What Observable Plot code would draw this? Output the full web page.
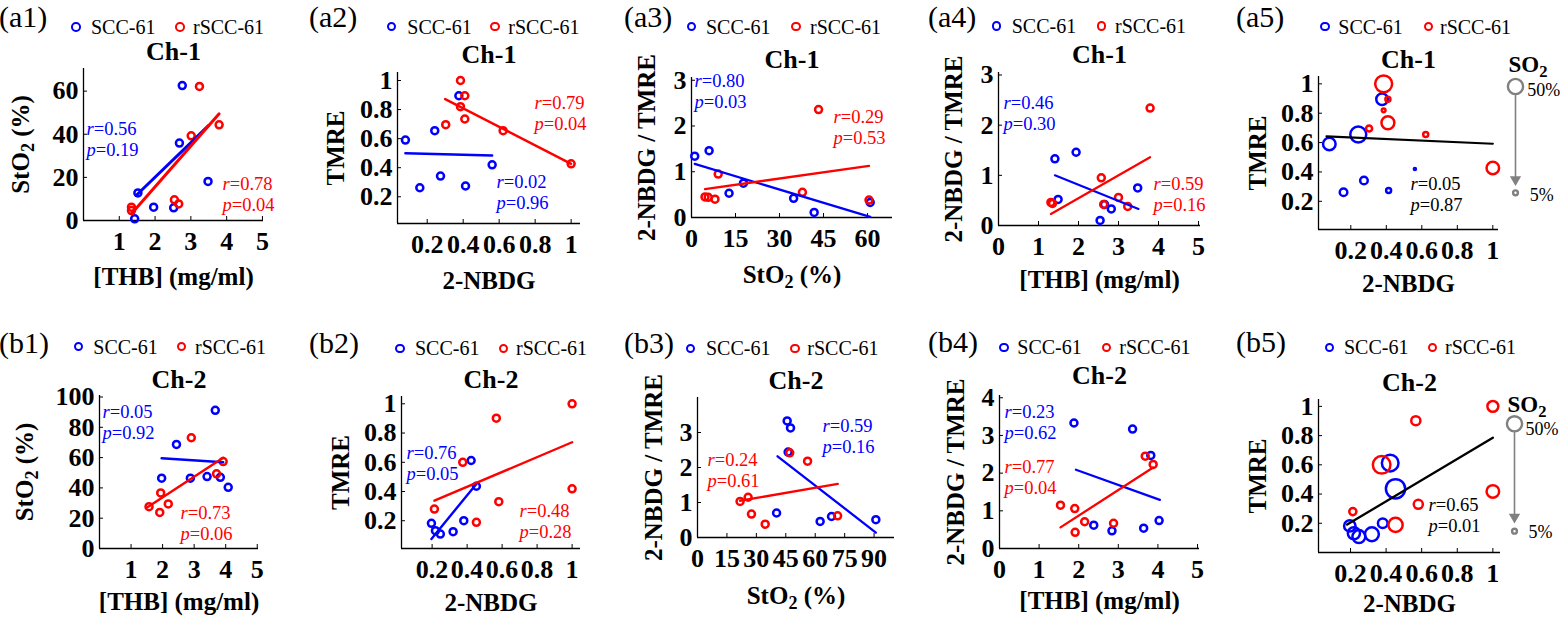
<!DOCTYPE html>
<html>
<head>
<meta charset="utf-8">
<script src="https://cdn.jsdelivr.net/npm/d3@7"></script>
<script src="https://cdn.jsdelivr.net/npm/@observablehq/plot@0.6"></script>
<style>
html,body{margin:0;padding:0;background:#fff;}
#fig{position:relative;width:1563px;height:617px;overflow:hidden;background:#fff;font-family:"Liberation Serif","Times New Roman",Times,serif;}
#fig svg, #fig svg text, #fig svg tspan{font-family:"Liberation Serif","Times New Roman",Times,serif !important;}
.abs{position:absolute;white-space:nowrap;line-height:1;}
.plab{font-size:30px;}
.legt{font-size:20px;}
.mk{position:absolute;box-sizing:border-box;width:9.6px;height:9.6px;border-radius:50%;border:2.5px solid;}
</style>
</head>
<body>
<div id="fig"></div>
<script>
const BLUE = "#0000ff", RED = "#ff0000", GRAY = "#808080", BLACK = "#000000";
const FONT = "'Liberation Serif', 'Times New Roman', Times, serif";

// ---------- series names ----------
const groups = ["SCC-61", "rSCC-61"];
const channels = ["Ch-1", "Ch-2"];
const panelIds = ["(a1)", "(a2)", "(a3)", "(a4)", "(a5)", "(b1)", "(b2)", "(b3)", "(b4)", "(b5)"];

// ---------- tick values ----------
const ticksTHB1 = [1, 2, 3, 4, 5];
const ticksTHB0 = [0, 1, 2, 3, 4, 5];
const ticksUnit = [0.2, 0.4, 0.6, 0.8, 1];
const ticksStO2a = [0, 20, 40, 60];
const ticksStO2b = [0, 20, 40, 60, 80, 100];
const ticksSt15a = [0, 15, 30, 45, 60];
const ticksSt15b = [0, 15, 30, 45, 60, 75, 90];
const ticksRatio3 = [0, 1, 2, 3];
const ticksRatio4 = [0, 1, 2, 3, 4];

// ---------- (a1) Ch-1 : THB vs StO2 ----------
const a1_thb_scc = [1.43, 1.52, 1.96, 2.52, 2.68, 2.76, 3.48];
const a1_sto2_scc = [0.8, 12.8, 6.2, 5.9, 35.9, 62.6, 18.1];
const a1_thb_rscc = [1.34, 1.34, 2.54, 2.66, 3.01, 3.24, 3.79];
const a1_sto2_rscc = [6.2, 4.6, 9.6, 7.7, 39.3, 62.2, 44.4];
const a1_fitx_scc = [1.47, 3.5], a1_fity_scc = [11.6, 44.1];
const a1_fitx_rscc = [1.34, 3.79], a1_fity_rscc = [3.1, 49.5];
const a1_stats_scc = ["r=0.56", "p=0.19"], a1_stats_rscc = ["r=0.78", "p=0.04"];

// ---------- (a2) Ch-1 : 2-NBDG vs TMRE ----------
const a2_nbdg_scc = [0.079, 0.159, 0.242, 0.274, 0.376, 0.413, 0.561];
const a2_tmre_scc = [0.59, 0.262, 0.655, 0.342, 0.895, 0.274, 0.42];
const a2_nbdg_rscc = [0.303, 0.385, 0.385, 0.409, 0.409, 0.622, 1.0];
const a2_tmre_rscc = [0.696, 1.0, 0.82, 0.895, 0.735, 0.655, 0.427];
const a2_fitx_scc = [0.079, 0.561], a2_fity_scc = [0.5, 0.484];
const a2_fitx_rscc = [0.3, 1.0], a2_fity_rscc = [0.872, 0.427];
const a2_stats_scc = ["r=0.02", "p=0.96"], a2_stats_rscc = ["r=0.79", "p=0.04"];

// ---------- (a3) Ch-1 : StO2 vs 2-NBDG/TMRE ----------
const a3_sto2_scc = [1.1, 6.0, 12.8, 17.7, 34.8, 41.8, 60.9];
const a3_ratio_scc = [1.34, 1.46, 0.53, 0.75, 0.42, 0.11, 0.33];
const a3_sto2_rscc = [4.6, 5.7, 8.0, 9.1, 37.8, 43.3, 60.5];
const a3_ratio_rscc = [0.45, 0.44, 0.40, 0.95, 0.55, 2.36, 0.38];
const a3_fitx_scc = [1.1, 60.9], a3_fity_scc = [1.17, 0.015];
const a3_fitx_rscc = [4.6, 60.5], a3_fity_rscc = [0.62, 1.13];
const a3_stats_scc = ["r=0.80", "p=0.03"], a3_stats_rscc = ["r=0.29", "p=0.53"];

// ---------- (a4) Ch-1 : THB vs 2-NBDG/TMRE ----------
const a4_thb_scc = [1.41, 1.49, 1.94, 2.54, 2.65, 2.82, 3.48];
const a4_ratio_scc = [1.33, 0.52, 1.46, 0.10, 0.42, 0.33, 0.75];
const a4_thb_rscc = [1.31, 1.35, 2.57, 2.63, 3.0, 3.23, 3.79];
const a4_ratio_rscc = [0.46, 0.44, 0.95, 0.42, 0.56, 0.38, 2.34];
const a4_fitx_scc = [1.41, 3.5], a4_fity_scc = [1.0, 0.33];
const a4_fitx_rscc = [1.31, 3.79], a4_fity_rscc = [0.23, 1.36];
const a4_stats_scc = ["r=0.46", "p=0.30"], a4_stats_rscc = ["r=0.59", "p=0.16"];

// ---------- (a5) Ch-1 : 2-NBDG vs TMRE, sized by SO2 ----------
const a5_so2_scc = [34, 12.5, 55, 12.5, 29, 5.4, 0.9];
const a5_so2_rscc = [8, 62, 3, 5.5, 36, 5.5, 34];
const a5_fitx = [0.063, 1.0], a5_fity = [0.642, 0.592];
const a5_stats = ["r=0.05", "p=0.87"];

// ---------- (b1) Ch-2 : THB vs StO2 ----------
const b1_thb_scc = [1.97, 2.44, 2.88, 3.41, 3.67, 3.83, 4.08];
const b1_sto2_scc = [46.4, 68.7, 46.4, 47.5, 91.2, 47.0, 40.4];
const b1_thb_rscc = [1.57, 1.91, 1.94, 2.18, 2.91, 3.71, 3.92];
const b1_sto2_rscc = [27.6, 23.8, 36.7, 29.4, 73.1, 49.3, 57.4];
const b1_fitx_scc = [1.97, 3.92], b1_fity_scc = [59.6, 57.0];
const b1_fitx_rscc = [1.52, 3.92], b1_fity_rscc = [27.2, 59.9];
const b1_stats_scc = ["r=0.05", "p=0.92"], b1_stats_rscc = ["r=0.73", "p=0.06"];

// ---------- (b2) Ch-2 : 2-NBDG vs TMRE ----------
const b2_nbdg_scc = [0.196, 0.219, 0.247, 0.32, 0.381, 0.423, 0.453];
const b2_tmre_scc = [0.182, 0.132, 0.109, 0.125, 0.2, 0.612, 0.436];
const b2_nbdg_rscc = [0.213, 0.375, 0.453, 0.567, 0.581, 1.0, 1.0];
const b2_tmre_rscc = [0.28, 0.6, 0.189, 0.902, 0.33, 1.0, 0.418];
const b2_fitx_scc = [0.196, 0.453], b2_fity_scc = [0.075, 0.452];
const b2_fitx_rscc = [0.213, 1.0], b2_fity_rscc = [0.337, 0.737];
const b2_stats_scc = ["r=0.76", "p=0.05"], b2_stats_rscc = ["r=0.48", "p=0.28"];

// ---------- (b3) Ch-2 : StO2 vs 2-NBDG/TMRE ----------
const b3_sto2_scc = [40.3, 45.7, 46.2, 47.4, 62.5, 68.3, 90.9];
const b3_ratio_scc = [0.70, 3.33, 2.44, 3.13, 0.46, 0.60, 0.51];
const b3_sto2_rscc = [21.7, 25.8, 27.5, 34.5, 47.0, 56.1, 71.4];
const b3_ratio_rscc = [1.03, 1.15, 0.67, 0.38, 2.42, 2.18, 0.62];
const b3_fitx_scc = [40.8, 90.9], b3_fity_scc = [2.32, 0.14];
const b3_fitx_rscc = [21.7, 71.5], b3_fity_rscc = [1.05, 1.53];
const b3_stats_scc = ["r=0.59", "p=0.16"], b3_stats_rscc = ["r=0.24", "p=0.61"];

// ---------- (b4) Ch-2 : THB vs 2-NBDG/TMRE ----------
const b4_thb_scc = [1.88, 2.38, 2.84, 3.36, 3.64, 3.82, 4.03];
const b4_ratio_scc = [3.33, 0.62, 0.47, 3.17, 0.54, 2.47, 0.74];
const b4_thb_rscc = [1.54, 1.90, 1.91, 2.15, 2.88, 3.68, 3.88];
const b4_ratio_rscc = [1.15, 1.06, 0.43, 0.71, 0.67, 2.45, 2.23];
const b4_fitx_scc = [1.93, 4.05], b4_fity_scc = [2.09, 1.29];
const b4_fitx_rscc = [1.54, 3.88], b4_fity_rscc = [0.56, 2.15];
const b4_stats_scc = ["r=0.23", "p=0.62"], b4_stats_rscc = ["r=0.77", "p=0.04"];

// ---------- (b5) Ch-2 : 2-NBDG vs TMRE, sized by SO2 ----------
const b5_so2_scc = [28, 32, 36, 42, 20, 60, 80];
const b5_so2_rscc = [11, 67, 44, 18, 18, 26, 34];
const b5_fitx = [0.181, 1.0], b5_fity = [0.191, 0.786];
const b5_stats = ["r=0.65", "p=0.01"];

// ---------- SO2 size legend ----------
const so2LegendValues = [50, 5];
const so2LegendLabels = ["50%", "5%"];

const LBL_THB = "[THB] (mg/ml)", LBL_STO2 = "StO\u2082 (%)", LBL_NBDG = "2-NBDG", LBL_TMRE = "TMRE", LBL_RATIO = "2-NBDG / TMRE";

function two(xs, ys, xr, yr, fxs, fys, fxr, fyr, ss, sr, atS, atR) {
  return {
    dots: [{x: xs, y: ys, color: BLUE}, {x: xr, y: yr, color: RED}],
    fits: [{x: fxs, y: fys, color: BLUE}, {x: fxr, y: fyr, color: RED}],
    notes: [{lines: ss, color: BLUE, at: atS}, {lines: sr, color: RED, at: atR}]
  };
}

const panels = [
  {label: panelIds[0], title: channels[0], col: [0, 300], row: 0, frame: [83, 263, 68, 220],
   xDomain: [0, 5.03], yDomain: [0, 70.5], xTicks: ticksTHB1, yTicks: ticksStO2a,
   xLabel: LBL_THB, yLabel: LBL_STO2, lw: 3, titleBase: 59, xlabBase: 284, ylabBase: 28,
   ...two(a1_thb_scc, a1_sto2_scc, a1_thb_rscc, a1_sto2_rscc, a1_fitx_scc, a1_fity_scc, a1_fitx_rscc, a1_fity_rscc, a1_stats_scc, a1_stats_rscc, [86, 129], [222, 184]),
   lab: [-1, 27], leg: [[76, 27, 91], [180, 27, 193]]},
  {label: panelIds[1], title: channels[0], col: [300, 620], row: 0, frame: [397, 580, 72, 223],
   xDomain: [0.035, 1.052], yDomain: [0.016, 1.055], xTicks: ticksUnit, yTicks: ticksUnit,
   xLabel: LBL_NBDG, yLabel: LBL_TMRE, lw: 2.5, titleBase: 62, xlabBase: 288, ylabBase: 343,
   ...two(a2_nbdg_scc, a2_tmre_scc, a2_nbdg_rscc, a2_tmre_rscc, a2_fitx_scc, a2_fity_scc, a2_fitx_rscc, a2_fity_rscc, a2_stats_scc, a2_stats_rscc, [496, 182], [534, 103]),
   lab: [309, 27], leg: [[391.7, 26.7, 407.3], [495, 26.7, 508.3]]},
  {label: panelIds[2], title: channels[0], col: [620, 930], row: 0, frame: [691, 892, 77, 217],
   xDomain: [0, 68.5], yDomain: [0, 3.06], xTicks: ticksSt15a, yTicks: ticksRatio3,
   xLabel: LBL_STO2, yLabel: LBL_RATIO, lw: 2.3, titleBase: 67, xlabBase: 282, ylabBase: 654,
   ...two(a3_sto2_scc, a3_ratio_scc, a3_sto2_rscc, a3_ratio_rscc, a3_fitx_scc, a3_fity_scc, a3_fitx_rscc, a3_fity_rscc, a3_stats_scc, a3_stats_rscc, [694, 81], [833, 117]),
   lab: [624, 27], leg: [[691.7, 26.7, 706], [796, 26.7, 810]]},
  {label: panelIds[3], title: channels[0], col: [930, 1240], row: 0, frame: [998, 1200, 72, 225],
   xDomain: [0, 5.05], yDomain: [0, 3.05], xTicks: ticksTHB0, yTicks: ticksRatio3,
   xLabel: LBL_THB, yLabel: LBL_RATIO, lw: 2.2, titleBase: 62, xlabBase: 287, ylabBase: 961,
   ...two(a4_thb_scc, a4_ratio_scc, a4_thb_rscc, a4_ratio_rscc, a4_fitx_scc, a4_fity_scc, a4_fitx_rscc, a4_fity_rscc, a4_stats_scc, a4_stats_rscc, [1003, 103], [1153, 184]),
   lab: [928, 27], leg: [[996.7, 26, 1011.7], [1101.7, 26, 1115]]},
  {label: panelIds[4], title: channels[0], col: [1240, 1505], row: 0, frame: [1318, 1498, 76, 229],
   xDomain: [0.018, 1.032], yDomain: [0.008, 1.05], xTicks: ticksUnit, yTicks: ticksUnit,
   xLabel: LBL_NBDG, yLabel: LBL_TMRE, lw: 2.2, titleBase: 67, xlabBase: 291, ylabBase: 1265,
   dots: [{x: a2_nbdg_scc, y: a2_tmre_scc, r: a5_so2_scc, color: BLUE}, {x: a2_nbdg_rscc, y: a2_tmre_rscc, r: a5_so2_rscc, color: RED}],
   fits: [{x: a5_fitx, y: a5_fity, color: BLACK}],
   notes: [{lines: a5_stats, color: BLACK, at: [1410, 184]}],
   lab: [1236, 27], leg: [[1325, 26.7, 1338.3], [1428.3, 26.7, 1440]],
   so2: {left: 1495, top: 50, y50: 36, y5: 142.3, cx: 20, so2dy: -14.3, t50: [11.7, 4], t5: [14.3, 2.7], triDy: -13.3, insB: 14.6}},
  {label: panelIds[5], title: channels[1], col: [0, 300], row: 1, frame: [99, 258, 395, 548],
   xDomain: [0, 5.04], yDomain: [0, 101], xTicks: ticksTHB1, yTicks: ticksStO2b,
   xLabel: LBL_THB, yLabel: LBL_STO2, lw: 2.5, titleBase: 387, xlabBase: 609, ylabBase: 32,
   ...two(b1_thb_scc, b1_sto2_scc, b1_thb_rscc, b1_sto2_rscc, b1_fitx_scc, b1_fity_scc, b1_fitx_rscc, b1_fity_rscc, b1_stats_scc, b1_stats_rscc, [102, 412], [180, 513]),
   lab: [-1, 353], leg: [[78.3, 346.7, 93.3], [181.7, 346.7, 195]]},
  {label: panelIds[6], title: channels[1], col: [300, 620], row: 1, frame: [401, 580, 396, 548],
   xDomain: [0.025, 1.048], yDomain: [0.01, 1.05], xTicks: ticksUnit, yTicks: ticksUnit,
   xLabel: LBL_NBDG, yLabel: LBL_TMRE, lw: 2.4, titleBase: 387, xlabBase: 610, ylabBase: 348,
   ...two(b2_nbdg_scc, b2_tmre_scc, b2_nbdg_rscc, b2_tmre_rscc, b2_fitx_scc, b2_fity_scc, b2_fitx_rscc, b2_fity_rscc, b2_stats_scc, b2_stats_rscc, [406, 453], [519, 511]),
   lab: [309, 353], leg: [[400, 348.3, 415], [503.3, 348.3, 516]]},
  {label: panelIds[7], title: channels[1], col: [620, 930], row: 1, frame: [697, 894, 397, 537],
   xDomain: [0, 100.4], yDomain: [0, 4], xTicks: ticksSt15b, yTicks: ticksRatio3,
   xLabel: LBL_STO2, yLabel: LBL_RATIO, lw: 2.3, titleBase: 388, xlabBase: 603, ylabBase: 661,
   ...two(b3_sto2_scc, b3_ratio_scc, b3_sto2_rscc, b3_ratio_rscc, b3_fitx_scc, b3_fity_scc, b3_fitx_rscc, b3_fity_rscc, b3_stats_scc, b3_stats_rscc, [822, 426], [707, 460]),
   lab: [624, 353], leg: [[690.7, 348.3, 706], [795, 348.3, 807.3]]},
  {label: panelIds[8], title: channels[1], col: [930, 1240], row: 1, frame: [999, 1199, 395, 548],
   xDomain: [0, 5.05], yDomain: [0, 4.06], xTicks: ticksTHB0, yTicks: ticksRatio4,
   xLabel: LBL_THB, yLabel: LBL_RATIO, lw: 2.3, titleBase: 383, xlabBase: 608, ylabBase: 963,
   ...two(b4_thb_scc, b4_ratio_scc, b4_thb_rscc, b4_ratio_rscc, b4_fitx_scc, b4_fity_scc, b4_fitx_rscc, b4_fity_rscc, b4_stats_scc, b4_stats_rscc, [1004, 412], [1004, 467]),
   lab: [928, 352], leg: [[1004, 347.3, 1017.3], [1106.7, 347.3, 1119.3]]},
  {label: panelIds[9], title: channels[1], col: [1240, 1505], row: 1, frame: [1318, 1500, 399, 552],
   xDomain: [0.02, 1.043], yDomain: [0, 1.047], xTicks: ticksUnit, yTicks: ticksUnit,
   xLabel: LBL_NBDG, yLabel: LBL_TMRE, lw: 2.3, titleBase: 390, xlabBase: 611, ylabBase: 1265,
   dots: [{x: b2_nbdg_scc, y: b2_tmre_scc, r: b5_so2_scc, color: BLUE}, {x: b2_nbdg_rscc, y: b2_tmre_rscc, r: b5_so2_rscc, color: RED}],
   fits: [{x: b5_fitx, y: b5_fity, color: BLACK}],
   notes: [{lines: b5_stats, color: BLACK, at: [1428, 505]}],
   lab: [1236, 352], leg: [[1329.3, 347.3, 1344], [1432.7, 347.3, 1445]],
   so2: {left: 1494, top: 370, y50: 53.3, y5: 160.7, cx: 20, so2dy: -11.8, t50: [11, 5], t5: [14, 1], triDy: -14.1, insB: 15.7}}
];

const rScale = {type: "sqrt", domain: [0, 50], range: [0, 7.6]};
const svgStyle = "background: transparent; overflow: visible; max-width: none;";
const NS = "http://www.w3.org/2000/svg";

function fixText(svg) {
  svg.querySelectorAll("text").forEach(t => {
    if (t.querySelector("tspan")) return;
    const s = t.textContent;
    if (/^[rp]=/.test(s)) {
      t.textContent = "";
      const a = document.createElementNS(NS, "tspan");
      a.setAttribute("font-style", "italic");
      a.textContent = s[0];
      const b = document.createElementNS(NS, "tspan");
      b.textContent = s.slice(1);
      t.append(a, b);
    } else if (s.includes("\u2082")) {
      const [pre, post] = s.split("\u2082");
      t.textContent = "";
      const a = document.createElementNS(NS, "tspan"); a.textContent = pre;
      const sub = document.createElementNS(NS, "tspan");
      sub.textContent = "2"; sub.setAttribute("font-size", "72%"); sub.setAttribute("baseline-shift", "-28%");
      const c = document.createElementNS(NS, "tspan"); c.textContent = post;
      t.append(a, sub, c);
    }
  });
}

const fig = document.getElementById("fig");
function place(el, left, top) {
  const d = document.createElement("div");
  d.className = "abs";
  d.style.left = left + "px"; d.style.top = top + "px";
  d.appendChild(el);
  fig.appendChild(d);
}

function renderPanel(p) {
  const [fl, fr, ft, fb] = p.frame;
  const top = p.row ? 308 : 0, h = p.row ? 309 : 305;
  const [cl, cr] = p.col;
  const fw = fr - fl, fh = fb - ft;
  const marks = [
    Plot.ruleX([p.xDomain[0]], {stroke: BLACK, strokeWidth: 1.3}),
    Plot.ruleY([p.yDomain[0]], {stroke: BLACK, strokeWidth: 1.3}),
    Plot.tickX(p.xTicks, {x: d => d, insetTop: fh - 4, stroke: BLACK}),
    Plot.tickY(p.yTicks, {y: d => d, insetRight: fw - 4, stroke: BLACK}),
    Plot.axisX(p.xTicks, {tickSize: 0, tickPadding: 11, fontSize: 26, fontWeight: "bold", fontFamily: FONT, label: null, tickFormat: d => String(d)}),
    Plot.axisY(p.yTicks, {tickSize: 0, tickPadding: 5, fontSize: 26, fontWeight: "bold", fontFamily: FONT, label: null, tickFormat: d => String(d)})
  ];
  for (const d of p.dots) {
    marks.push(Plot.dot(d.x, {x: d.x, y: d.y, r: d.r ?? 3.5, stroke: d.color, strokeWidth: 2.5}));
  }
  for (const f of p.fits) {
    marks.push(Plot.line(f.x, {x: f.x, y: f.y, stroke: f.color, strokeWidth: p.lw}));
  }
  for (const n of p.notes) {
    n.lines.forEach((s, i) => marks.push(Plot.text([s], {
      frameAnchor: "top-left", dx: n.at[0] - fl, dy: n.at[1] + 21 * i - ft,
      textAnchor: "start", lineAnchor: "middle", fill: n.color, fontSize: 18.5, fontFamily: FONT})));
  }
  marks.push(Plot.text([p.title], {frameAnchor: "top", dy: p.titleBase - ft, textAnchor: "middle", lineAnchor: "bottom", fontSize: 26, fontWeight: "bold", fontFamily: FONT}));
  marks.push(Plot.text([p.xLabel], {frameAnchor: "bottom", dy: p.xlabBase - fb, textAnchor: "middle", lineAnchor: "bottom", fontSize: 25, fontWeight: "bold", fontFamily: FONT}));
  marks.push(Plot.text([p.yLabel], {frameAnchor: "left", dx: p.ylabBase - fl, rotate: -90, textAnchor: "middle", lineAnchor: "bottom", fontSize: 25, fontWeight: "bold", fontFamily: FONT}));

  const svg = Plot.plot({
    width: cr - cl, height: h,
    marginLeft: fl - cl, marginRight: cr - fr, marginTop: ft - top, marginBottom: top + h - fb,
    x: {domain: p.xDomain, axis: null}, y: {domain: p.yDomain, axis: null}, r: rScale,
    style: svgStyle, marks
  });
  fixText(svg);
  place(svg, cl, top);

  // panel label
  const lab = document.createElement("span");
  lab.className = "plab"; lab.textContent = p.label;
  place(lab, p.lab[0], p.lab[1] - 25);
  // legend
  p.leg.forEach(([cx, cy, tx], i) => {
    const mk = document.createElement("div");
    mk.className = "mk"; mk.style.borderColor = i ? RED : BLUE;
    mk.style.left = "0px"; mk.style.top = "0px";
    place(mk, cx - 4.8, cy - 4.8);
    const t = document.createElement("span");
    t.className = "legt"; t.textContent = groups[i];
    place(t, tx, cy - 10.2);
  });

  if (p.so2) renderSO2(p.so2);
}

function renderSO2(s) {
  const w = 68, h = s.y5 + 20;
  const X = 0.5;
  const svg = Plot.plot({
    width: w, height: h, margin: 0,
    x: {domain: [0, 1], range: [s.cx - X * w, s.cx + (1 - X) * w], axis: null},
    y: {domain: [so2LegendValues[0], so2LegendValues[1]], range: [s.y50, s.y5], axis: null},
    r: rScale,
    style: svgStyle,
    marks: [
      Plot.ruleX([X], {x: d => d, y1: so2LegendValues[0], y2: so2LegendValues[1], insetTop: 8.8, insetBottom: s.insB, stroke: GRAY, strokeWidth: 1.6}),
      Plot.dot([so2LegendValues[1]], {x: X, y: d => d, symbol: "triangle", r: 4.2, fill: GRAY, stroke: "none", rotate: 180, dy: s.triDy}),
      Plot.dot(so2LegendValues, {x: X, y: d => d, r: d => d, stroke: GRAY, strokeWidth: 2.4}),
      Plot.text([so2LegendLabels[0]], {x: X, y: so2LegendValues[0], dx: s.t50[0], dy: s.t50[1], textAnchor: "start", lineAnchor: "middle", fontSize: 18, fontFamily: FONT, fill: BLACK}),
      Plot.text([so2LegendLabels[1]], {x: X, y: so2LegendValues[1], dx: s.t5[0], dy: s.t5[1], textAnchor: "start", lineAnchor: "middle", fontSize: 18, fontFamily: FONT, fill: BLACK}),
      Plot.text(["SO\u2082"], {x: X, y: so2LegendValues[0], dx: 12.5, dy: s.so2dy, textAnchor: "middle", lineAnchor: "bottom", fontSize: 23, fontWeight: "bold", fontFamily: FONT, fill: BLACK})
    ]
  });
  fixText(svg);
  place(svg, s.left, s.top);
}

panels.forEach(renderPanel);
</script>
</body>
</html>
